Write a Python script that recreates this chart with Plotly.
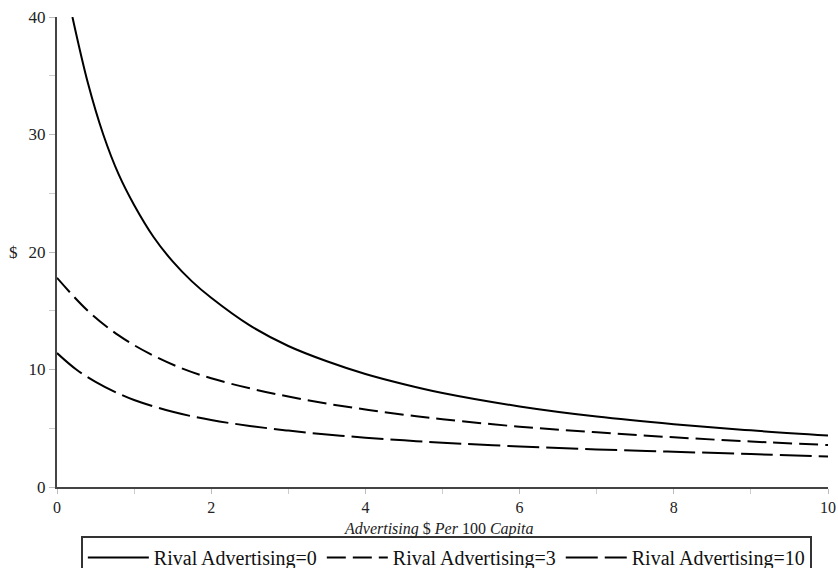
import plotly.graph_objects as go

# Rival Advertising = 0
x_r0 = [0.2, 0.4, 0.6, 0.8, 1.0, 1.25, 1.5, 1.75, 2.0, 2.5, 3.0, 3.5, 4.0, 4.5, 5.0, 6.0, 7.0, 8.0, 9.0, 10.0]
y_r0 = [40.0, 34.4, 30.0, 26.6, 24.0, 21.3, 19.2, 17.5, 16.1, 13.75, 12.0, 10.7, 9.62, 8.75, 8.0, 6.86, 6.0, 5.35, 4.82, 4.38]

# Rival Advertising = 3
x_r3 = [0, 0.4, 0.8, 1.2, 1.6, 2.0, 2.5, 3.0, 3.5, 4.0, 4.5, 5.0, 6.0, 7.0, 8.0, 9.0, 10.0]
y_r3 = [17.8, 15.0, 12.9, 11.35, 10.15, 9.25, 8.4, 7.7, 7.1, 6.6, 6.15, 5.77, 5.13, 4.65, 4.23, 3.87, 3.57]

# Rival Advertising = 10
x_r10 = [0, 0.25, 0.5, 0.75, 1.0, 1.5, 2.0, 2.5, 3.0, 3.5, 4.0, 4.5, 5.0, 6.0, 7.0, 8.0, 9.0, 10.0]
y_r10 = [11.4, 10.0, 8.95, 8.1, 7.4, 6.4, 5.7, 5.2, 4.8, 4.47, 4.2, 3.97, 3.77, 3.45, 3.2, 3.0, 2.8, 2.6]

names = ["Rival Advertising=0", "Rival Advertising=3", "Rival Advertising=10"]
x_ticks = [0, 2, 4, 6, 8, 10]
y_ticks = [0, 10, 20, 30, 40]
x_title = "<i>Advertising</i> $ <i>Per</i> 100 <i>Capita</i>"
y_title = "$"

series = [
    (x_r0, y_r0, names[0], "solid"),
    (x_r3, y_r3, names[1], "19px,7px"),
    (x_r10, y_r10, names[2], "32px,7px"),
]

fig = go.Figure()
for xs, ys, nm, dash in series:
    fig.add_trace(go.Scatter(
        x=xs, y=ys, name=nm, mode="lines",
        line=dict(color="black", width=2, dash=dash, shape="spline", smoothing=1.0),
    ))

font_family = "Liberation Serif"
fig.update_layout(
    width=838, height=568,
    margin=dict(l=57, r=10, t=17, b=81, autoexpand=False),
    paper_bgcolor="white", plot_bgcolor="white",
    font=dict(family=font_family, size=17, color="#222"),
    showlegend=True,
    legend=dict(
        orientation="h", x=0.505, xanchor="center",
        yref="container", y=0.0563, yanchor="top",
        bordercolor="#333", borderwidth=2,
        font=dict(size=20, color="#111", family=font_family),
        itemwidth=61, tracegroupgap=0,
    ),
    xaxis=dict(
        range=[0, 10], tickvals=x_ticks, ticktext=[str(v) for v in x_ticks],
        showgrid=False, zeroline=False, automargin=False,
        showline=True, linecolor="#444", linewidth=2,
        ticks="outside", ticklen=5, tickcolor="#bbb", tickwidth=1,
        ticklabeloverflow="allow",
        minor=dict(dtick=1, ticks="outside", ticklen=5, tickcolor="#ccc", showgrid=False),
        tickfont=dict(size=16, family=font_family),
    ),
    yaxis=dict(
        range=[0, 40], tickvals=y_ticks, ticktext=[str(v) for v in y_ticks],
        showgrid=False, zeroline=False, automargin=False,
        showline=True, linecolor="#444", linewidth=2,
        ticks="outside", ticklen=6, tickcolor="#bbb", tickwidth=1,
        ticklabeloverflow="allow",
        minor=dict(dtick=5, ticks="outside", ticklen=6, tickcolor="#ccc", showgrid=False),
        tickfont=dict(size=17, family=font_family),
    ),
)

fig.add_annotation(
    text=x_title, xref="paper", yref="paper", x=0.495, y=-0.090,
    xanchor="center", yanchor="middle", showarrow=False,
    font=dict(size=16, family=font_family, color="#222"),
)
fig.add_annotation(
    text=y_title, xref="paper", yref="paper", x=-0.057, y=0.5, xanchor="center", yanchor="middle",
    showarrow=False, font=dict(size=17, family=font_family, color="#222"),
)

fig.write_html(
    "out.html",
    config={"displayModeBar": False},
    post_script="document.body.style.margin='0';document.body.style.padding='0';",
)
